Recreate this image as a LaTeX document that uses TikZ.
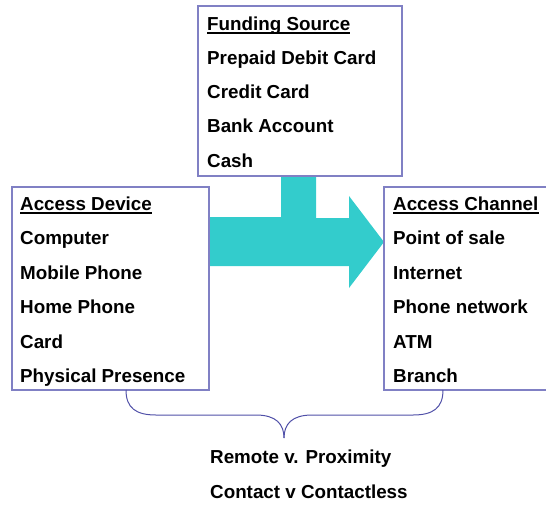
\documentclass[tikz,border=0pt]{standalone}
\usepackage{fontspec}
\setmainfont{Liberation Sans}
\begin{document}
\begin{tikzpicture}[x=1pt,y=-1pt,
  boxline/.style={draw=boxc, line width=1.2pt},
  txt/.style={anchor=base west, inner sep=0pt, font=\fontsize{18.8}{20}\selectfont\bfseries},
  head/.style={txt},
  uline/.style={draw=black, line width=1.8pt},
  bracel/.style={draw=bracec, line width=1pt}]
\definecolor{boxc}{HTML}{8080C4}
\definecolor{bracec}{HTML}{5050A8}
\definecolor{teal}{HTML}{33CCCC}
\useasboundingbox (0,0) rectangle (546,504);
% arrow
\fill[teal] (209,217) -- (281,217) -- (281,176) -- (316,176) -- (316,218) -- (349,218) -- (349,196) -- (384,242) -- (349,288) -- (349,266) -- (209,266) -- cycle;
% boxes
\draw[boxline] (198,6) rectangle (402,176);
\draw[boxline] (12,187) rectangle (209,390);
\draw[boxline] (384,187) rectangle (550,390);
% top box text
\node[head] (fh) at (207,30) {Funding Source};
\node[txt] (f1) at (207,64) {Prepaid Debit Card};
\node[txt] (f2) at (207,98) {Credit Card};
\node[txt] (f3) at (207,132) {Bank Account};
\node[txt] (f4) at (207,167) {Cash};
% left box
\node[head] (dh) at (20,210) {Access Device};
\node[txt] (d1) at (20,244) {Computer};
\node[txt] (d2) at (20,279) {Mobile Phone};
\node[txt] (d3) at (20,313) {Home Phone};
\node[txt] (d4) at (20,348) {Card};
\node[txt] (d5) at (20,382) {Physical Presence};
% right box
\node[head] (ch) at (393,210) {Access Channel};
\node[txt] (c1) at (393,244) {Point of sale};
\node[txt] (c2) at (393,279) {Internet};
\node[txt] (c3) at (393,313) {Phone network};
\node[txt] (c4) at (393,348) {ATM};
\node[txt] (c5) at (393,382) {Branch};
% underlines
\foreach \h in {fh,dh,ch}
  \draw[uline] ([yshift=-2.6pt]\h.base west) -- ([yshift=-2.6pt]\h.base east);
% brace
\draw[bracel] (126,390) .. controls (126,408) and (136,415) .. (156,415) -- (256,415) .. controls (276,415) and (284,424) .. (284,438);
\draw[bracel] (443,390) .. controls (443,408) and (433,415) .. (413,415) -- (312,415) .. controls (292,415) and (284,424) .. (284,438);
% bottom text
\node[txt] (b1) at (210,463) {Remote v. Proximity};
\node[txt] (b2) at (210,498) {Contact v Contactless};
\end{tikzpicture}
\end{document}
